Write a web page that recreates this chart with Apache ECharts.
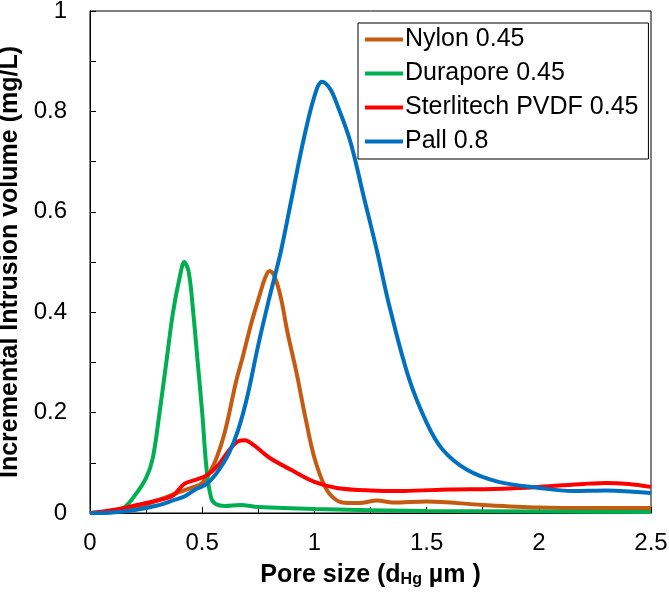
<!DOCTYPE html>
<html>
<head>
<meta charset="utf-8">
<script src="https://cdn.jsdelivr.net/npm/echarts@6/dist/echarts.min.js"></script>
<style>
  html, body { margin: 0; padding: 0; background: #fff; }
  #chart { width: 669px; height: 600px; }
</style>
</head>
<body>
<div id="chart"></div>
<script>
// series names
const seriesNames = ['Nylon 0.45', 'Durapore 0.45', 'Sterlitech PVDF 0.45', 'Pall 0.8'];

// Nylon 0.45
const nylonX = [0, 0.1, 0.2, 0.3, 0.4, 0.45, 0.5, 0.55, 0.6, 0.65, 0.68, 0.72, 0.76, 0.78, 0.8, 0.82, 0.85, 0.88, 0.92, 0.96, 1.0, 1.05, 1.1, 1.15, 1.2, 1.28, 1.35, 1.5, 1.75, 2.0, 2.25, 2.5];
const nylonY = [0, 0.003, 0.01, 0.025, 0.042, 0.05, 0.06, 0.095, 0.16, 0.26, 0.31, 0.38, 0.44, 0.468, 0.482, 0.474, 0.43, 0.36, 0.28, 0.19, 0.11, 0.05, 0.025, 0.02, 0.02, 0.025, 0.021, 0.023, 0.016, 0.011, 0.01, 0.01];

// Durapore 0.45
const duraX = [0, 0.1, 0.15, 0.2, 0.25, 0.28, 0.31, 0.34, 0.37, 0.4, 0.42, 0.44, 0.46, 0.48, 0.5, 0.52, 0.54, 0.56, 0.6, 0.67, 0.75, 1.0, 1.5, 2.0, 2.5];
const duraY = [0, 0.002, 0.01, 0.035, 0.07, 0.11, 0.2, 0.3, 0.4, 0.47, 0.5, 0.48, 0.4, 0.3, 0.2, 0.085, 0.03, 0.018, 0.014, 0.016, 0.012, 0.008, 0.004, 0.003, 0.002];

// Sterlitech PVDF 0.45
const sterX = [0, 0.1, 0.2, 0.3, 0.37, 0.42, 0.47, 0.52, 0.57, 0.62, 0.66, 0.69, 0.73, 0.8, 0.9, 1.0, 1.1, 1.25, 1.4, 1.6, 1.8, 2.0, 2.2, 2.3, 2.4, 2.5];
const sterY = [0, 0.006, 0.015, 0.025, 0.035, 0.058, 0.066, 0.075, 0.095, 0.125, 0.143, 0.145, 0.135, 0.11, 0.085, 0.062, 0.05, 0.045, 0.044, 0.047, 0.048, 0.052, 0.058, 0.06, 0.058, 0.052];

// Pall 0.8
const pallX = [0, 0.1, 0.2, 0.3, 0.37, 0.42, 0.47, 0.52, 0.57, 0.62, 0.66, 0.7, 0.75, 0.8, 0.85, 0.9, 0.95, 1.0, 1.034, 1.07, 1.1, 1.16, 1.22, 1.28, 1.33, 1.42, 1.5, 1.57, 1.68, 1.82, 2.0, 2.15, 2.3, 2.5];
const pallY = [0, 0.001, 0.006, 0.015, 0.025, 0.033, 0.047, 0.058, 0.083, 0.12, 0.165, 0.23, 0.335, 0.43, 0.52, 0.63, 0.74, 0.83, 0.859, 0.845, 0.815, 0.74, 0.63, 0.52, 0.42, 0.27, 0.18, 0.127, 0.086, 0.062, 0.05, 0.044, 0.045, 0.04];

const colors = ['#C55A11', '#00B050', '#FF0000', '#0070C0'];

const pairs = (xs, ys) => xs.map((x, i) => [x, ys[i]]);

const chart = echarts.init(document.getElementById('chart'));

const fontFamily = '"Liberation Sans", Arial, sans-serif';

const mkSeries = (name, xs, ys, color) => ({
  name: name,
  type: 'line',
  data: pairs(xs, ys),
  smooth: 0.35,
  showSymbol: false,
  lineStyle: { color: color, width: 4 },
  itemStyle: { color: color }
});

chart.setOption({
  animation: false,
  textStyle: { fontFamily: fontFamily },
  grid: {
    left: 90, right: 18, top: 11, bottom: 87,
    containLabel: false,
    outerBoundsMode: 'none',
    show: true, borderColor: '#000', borderWidth: 1
  },
  legend: {
    orient: 'vertical',
    left: 358, top: 23,
    data: seriesNames,
    icon: 'rect',
    itemWidth: 38, itemHeight: 4,
    itemGap: 9,
    borderColor: '#000', borderWidth: 1,
    padding: [4, 10, 5, 7],
    textStyle: { fontSize: 25, color: '#000', fontFamily: fontFamily, padding: [0, 0, 0, -3] }
  },
  xAxis: {
    type: 'value',
    min: 0, max: 2.5, interval: 0.5,
    name: '{b|Pore size (d}{s|Hg}{b| µm )}',
    nameLocation: 'middle',
    nameGap: 49,
    nameTextStyle: {
      rich: {
        b: { fontSize: 25, fontWeight: 'bold', color: '#000', fontFamily: fontFamily },
        s: { fontSize: 16, fontWeight: 'bold', color: '#000', fontFamily: fontFamily, verticalAlign: 'bottom', padding: [10, 0, 0, 0] }
      }
    },
    axisLine: { show: true, lineStyle: { color: '#000', width: 1 } },
    axisTick: { show: true, inside: true, length: 6, lineStyle: { color: '#000' } },
    minorTick: { show: true, splitNumber: 2, length: 6, lineStyle: { color: '#000' } },
    axisLabel: { fontSize: 24, color: '#000', margin: 18, formatter: v => String(v) },
    splitLine: { show: false }
  },
  yAxis: {
    type: 'value',
    min: 0, max: 1, interval: 0.2,
    name: 'Incremental Intrusion volume (mg/L)',
    nameLocation: 'middle',
    nameGap: 62,
    nameTextStyle: { fontSize: 25, fontWeight: 'bold', color: '#000', fontFamily: fontFamily },
    axisLine: { show: true, lineStyle: { color: '#000', width: 1 } },
    axisTick: { show: true, inside: true, length: 6, lineStyle: { color: '#000' } },
    minorTick: { show: true, splitNumber: 2, length: 6, lineStyle: { color: '#000' } },
    axisLabel: { fontSize: 24, color: '#000', margin: 23, formatter: v => String(Math.round(v * 10) / 10) },
    splitLine: { show: false }
  },
  series: [
    mkSeries(seriesNames[0], nylonX, nylonY, colors[0]),
    mkSeries(seriesNames[1], duraX, duraY, colors[1]),
    mkSeries(seriesNames[2], sterX, sterY, colors[2]),
    mkSeries(seriesNames[3], pallX, pallY, colors[3])
  ]
});
</script>
</body>
</html>
